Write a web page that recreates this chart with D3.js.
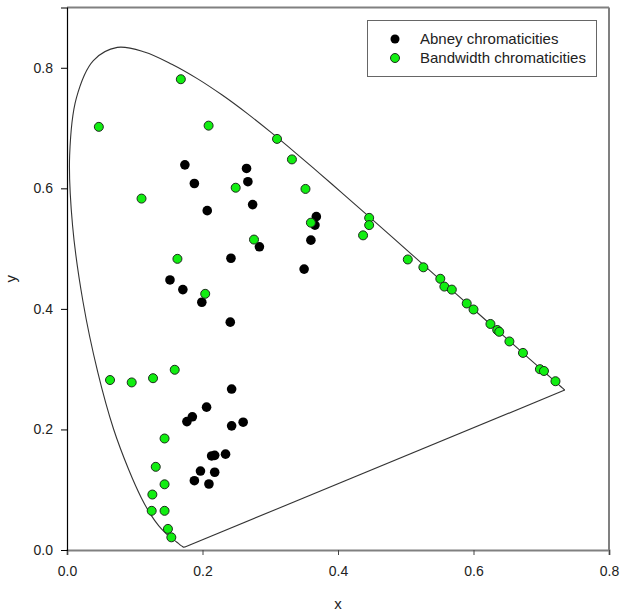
<!DOCTYPE html>
<html lang="en">
<head>
<meta charset="UTF-8">
<title>CIE chromaticities</title>
<script src="https://d3js.org/d3.v7.min.js"></script>
<style>
  body { margin: 0; background: #fff; }
  text { font-family: "Liberation Sans", Arial, sans-serif; fill: #222; }
</style>
</head>
<body>
<div id="chart"></div>
<script>
// CIE 1931 spectral locus, 380-700 nm in 5 nm steps
var locusX = [0.1741,0.1740,0.1738,0.1736,0.1733,0.1730,0.1726,0.1721,0.1714,0.1703,0.1689,0.1669,0.1644,0.1611,0.1566,0.1510,0.1440,0.1355,0.1241,0.1096,0.0913,0.0687,0.0454,0.0235,0.0082,0.0039,0.0139,0.0389,0.0743,0.1142,0.1547,0.1929,0.2296,0.2658,0.3016,0.3373,0.3731,0.4087,0.4441,0.4788,0.5125,0.5448,0.5752,0.6029,0.6270,0.6482,0.6658,0.6801,0.6915,0.7006,0.7079,0.7140,0.7190,0.7230,0.7260,0.7283,0.7300,0.7311,0.7320,0.7327,0.7334,0.7340,0.7344,0.7346,0.7347];
var locusY = [0.0050,0.0050,0.0049,0.0049,0.0048,0.0048,0.0048,0.0048,0.0051,0.0058,0.0069,0.0086,0.0109,0.0138,0.0177,0.0227,0.0297,0.0399,0.0578,0.0868,0.1327,0.2007,0.2950,0.4127,0.5384,0.6548,0.7502,0.8120,0.8338,0.8262,0.8059,0.7816,0.7543,0.7243,0.6923,0.6589,0.6245,0.5896,0.5547,0.5202,0.4866,0.4544,0.4242,0.3965,0.3725,0.3514,0.3340,0.3197,0.3083,0.2993,0.2920,0.2859,0.2809,0.2770,0.2740,0.2717,0.2700,0.2689,0.2680,0.2673,0.2666,0.2660,0.2656,0.2654,0.2653];

// Abney chromaticities (black)
var abneyX = [0.174,0.188,0.265,0.267,0.274,0.207,0.368,0.366,0.360,0.284,0.242,0.350,0.152,0.171,0.199,0.241,0.243,0.206,0.185,0.177,0.243,0.260,0.2135,0.218,0.234,0.197,0.218,0.188,0.2095];
var abneyY = [0.639,0.608,0.633,0.611,0.573,0.563,0.553,0.539,0.514,0.503,0.484,0.466,0.448,0.432,0.411,0.378,0.267,0.237,0.221,0.213,0.206,0.212,0.156,0.157,0.159,0.131,0.129,0.115,0.1095];

// Bandwidth chromaticities (green)
var bandX = [0.047,0.168,0.209,0.310,0.332,0.249,0.352,0.110,0.360,0.276,0.163,0.204,0.446,0.446,0.437,0.503,0.526,0.551,0.557,0.568,0.590,0.600,0.625,0.635,0.638,0.653,0.673,0.698,0.704,0.721,0.0635,0.0955,0.127,0.159,0.144,0.131,0.144,0.126,0.125,0.144,0.149,0.154];
var bandY = [0.702,0.781,0.704,0.682,0.648,0.601,0.599,0.583,0.543,0.515,0.483,0.425,0.551,0.539,0.522,0.482,0.469,0.450,0.437,0.432,0.409,0.399,0.375,0.365,0.362,0.346,0.327,0.300,0.297,0.280,0.282,0.278,0.285,0.299,0.185,0.138,0.109,0.092,0.065,0.065,0.035,0.021];

var xTicks = [0, 0.2, 0.4, 0.6, 0.8];
var yTicks = [0, 0.2, 0.4, 0.6, 0.8];
var seriesNames = ["Abney chromaticities", "Bandwidth chromaticities"];

var W = 624, H = 616;
var margin = { top: 7.5, right: 15, bottom: 66, left: 67 };
var width = W - margin.left - margin.right;
var height = H - margin.top - margin.bottom;

var svg = d3.select("#chart").append("svg")
    .attr("width", W)
    .attr("height", H);

var g = svg.append("g")
    .attr("transform", "translate(" + margin.left + "," + margin.top + ")");

var x = d3.scaleLinear().domain([0, 0.8]).range([0, width]);
var y = d3.scaleLinear().domain([0, 0.9]).range([height, 0]);

// frame: top and right in grey
g.append("line").attr("x1", 0).attr("x2", width).attr("y1", 0).attr("y2", 0)
    .attr("stroke", "#808080").attr("stroke-width", 2);
g.append("line").attr("x1", width).attr("x2", width).attr("y1", 0).attr("y2", height)
    .attr("stroke", "#808080").attr("stroke-width", 2);

// axes
var xAxis = g.append("g")
    .attr("transform", "translate(0," + height + ")")
    .call(d3.axisBottom(x).tickValues(xTicks).tickFormat(d3.format(".1f")).tickSize(5).tickPadding(11));
xAxis.select(".domain").attr("stroke", "#808080").attr("stroke-width", 2);
xAxis.selectAll(".tick line").attr("stroke", "#444");
xAxis.selectAll("text").style("font-size", "14px").attr("fill", "#222");

var yAxis = g.append("g")
    .call(d3.axisLeft(y).tickValues(yTicks).tickFormat(d3.format(".1f")).tickSize(6).tickPadding(8));
yAxis.select(".domain").attr("stroke", "#000").attr("stroke-width", 1.2);
yAxis.selectAll(".tick line").attr("stroke", "#000");
yAxis.selectAll("text").style("font-size", "14px").attr("fill", "#222");

// spectral locus
var locus = locusX.map(function(d, i) { return [d, locusY[i]]; });
var line = d3.line()
    .x(function(d) { return x(d[0]); })
    .y(function(d) { return y(d[1]); })
    .curve(d3.curveCatmullRom.alpha(0.5));

g.append("path")
    .datum(locus)
    .attr("d", line)
    .attr("fill", "none")
    .attr("stroke", "#333")
    .attr("stroke-width", 1.1);

// line of purples
g.append("line")
    .attr("x1", x(locusX[locusX.length - 1])).attr("y1", y(locusY[locusY.length - 1]))
    .attr("x2", x(locusX[0])).attr("y2", y(locusY[0]))
    .attr("stroke", "#333")
    .attr("stroke-width", 1.1);

// points
var abney = abneyX.map(function(d, i) { return { x: d, y: abneyY[i] }; });
var band = bandX.map(function(d, i) { return { x: d, y: bandY[i] }; });

g.selectAll(".abney")
    .data(abney)
    .enter().append("circle")
    .attr("class", "abney")
    .attr("cx", function(d) { return x(d.x); })
    .attr("cy", function(d) { return y(d.y); })
    .attr("r", 4.8)
    .attr("fill", "#000");

g.selectAll(".band")
    .data(band)
    .enter().append("circle")
    .attr("class", "band")
    .attr("cx", function(d) { return x(d.x); })
    .attr("cy", function(d) { return y(d.y); })
    .attr("r", 4.5)
    .attr("fill", "#11ee11")
    .attr("stroke", "#1d2b1d")
    .attr("stroke-width", 1);

// axis titles
svg.append("text")
    .attr("x", margin.left + width / 2)
    .attr("y", 609)
    .attr("text-anchor", "middle")
    .style("font-size", "15px")
    .text("x");

svg.append("text")
    .attr("transform", "translate(16," + (margin.top + height / 2) + ") rotate(-90)")
    .attr("text-anchor", "middle")
    .style("font-size", "15px")
    .text("y");

// legend
var legend = svg.append("g");
legend.append("rect")
    .attr("x", 367.5).attr("y", 20.5)
    .attr("width", 229).attr("height", 56)
    .attr("fill", "#fff")
    .attr("stroke", "#666")
    .attr("stroke-width", 1);

var legColors = ["#000", "#11ee11"];
seriesNames.forEach(function(name, i) {
    var cy = 39 + i * 19;
    legend.append("circle")
        .attr("cx", 395).attr("cy", cy).attr("r", 4.5)
        .attr("fill", legColors[i])
        .attr("stroke", i === 1 ? "#1d2b1d" : "none")
        .attr("stroke-width", 1);
    legend.append("text")
        .attr("x", 420).attr("y", cy)
        .attr("dy", "0.35em")
        .style("font-size", "15px")
        .text(name);
});
</script>
</body>
</html>
